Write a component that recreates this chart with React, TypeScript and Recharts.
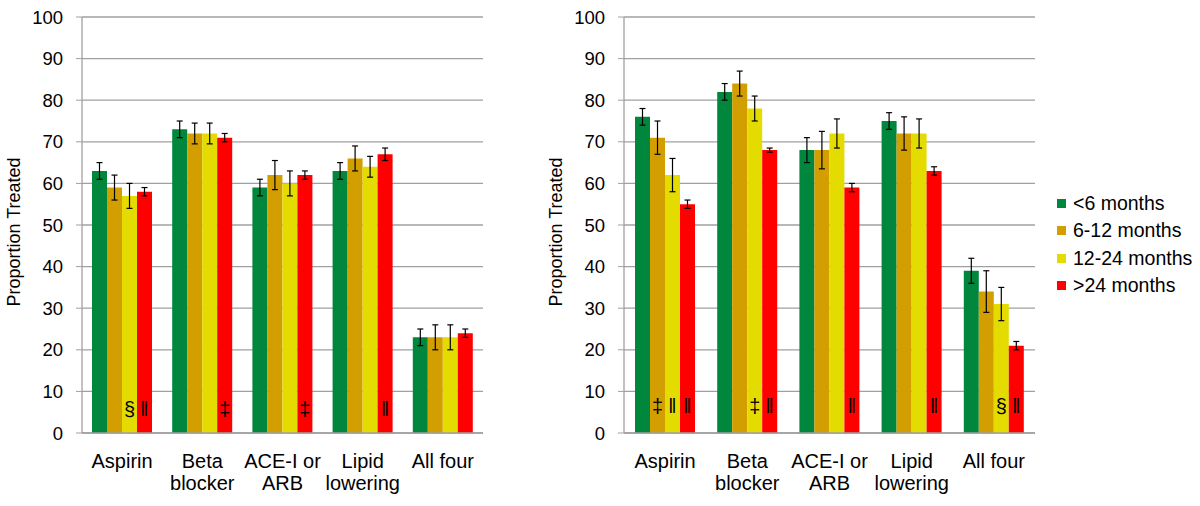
import React from "react";
import {
  BarChart,
  Bar,
  XAxis,
  YAxis,
  CartesianGrid,
  ErrorBar,
  LabelList,
} from "recharts";

const FONT = '"Liberation Sans", Arial, sans-serif';
const GRID = "#a0a0a0";

const categories = [
  "Aspirin",
  "Beta\nblocker",
  "ACE-I or\nARB",
  "Lipid\nlowering",
  "All four",
];
const seriesNames = ["<6 months", "6-12 months", "12-24 months", ">24 months"];
const seriesColors = ["#00873d", "#d39f00", "#e4dc00", "#fe0000"];
const yTicks = [0, 10, 20, 30, 40, 50, 60, 70, 80, 90, 100];

// left panel
const leftLt6 = [63, 73, 59, 63, 23];
const left6to12 = [59, 72, 62, 66, 23];
const left12to24 = [57, 72, 60, 64, 23];
const leftGt24 = [58, 71, 62, 67, 24];
const leftErrLt6 = [2, 2, 2, 2, 2];
const leftErr6to12 = [3, 2.5, 3.5, 3, 3];
const leftErr12to24 = [3, 2.5, 3, 2.5, 3];
const leftErrGt24 = [1, 1, 1, 1.5, 1];
const leftSymLt6 = ["", "", "", "", ""];
const leftSym6to12 = ["", "", "", "", ""];
const leftSym12to24 = ["§", "", "", "", ""];
const leftSymGt24 = ["‖", "‡", "‡", "‖", ""];

// right panel
const rightLt6 = [76, 82, 68, 75, 39];
const right6to12 = [71, 84, 68, 72, 34];
const right12to24 = [62, 78, 72, 72, 31];
const rightGt24 = [55, 68, 59, 63, 21];
const rightErrLt6 = [2, 2, 3, 2, 3];
const rightErr6to12 = [4, 3, 4.5, 4, 5];
const rightErr12to24 = [4, 3, 3.5, 3.5, 4];
const rightErrGt24 = [1, 0.5, 1, 1, 1];
const rightSymLt6 = ["", "", "", "", ""];
const rightSym6to12 = ["‡", "", "", "", ""];
const rightSym12to24 = ["‖", "‡", "", "", "§"];
const rightSymGt24 = ["‖", "‖", "‖", "‖", "‖"];

function buildRows(values: number[][], errors: number[][], symbols: string[][]) {
  return categories.map((name, i) => {
    const row: any = { name };
    values.forEach((vals, s) => {
      row["v" + s] = vals[i];
      row["e" + s] = errors[s][i];
      row["s" + s] = symbols[s][i];
    });
    return row;
  });
}

const leftData = buildRows(
  [leftLt6, left6to12, left12to24, leftGt24],
  [leftErrLt6, leftErr6to12, leftErr12to24, leftErrGt24],
  [leftSymLt6, leftSym6to12, leftSym12to24, leftSymGt24]
);
const rightData = buildRows(
  [rightLt6, right6to12, right12to24, rightGt24],
  [rightErrLt6, rightErr6to12, rightErr12to24, rightErrGt24],
  [rightSymLt6, rightSym6to12, rightSym12to24, rightSymGt24]
);

const CategoryTick = (props: any) => {
  const { x, y, payload } = props;
  const lines = String(payload.value).split("\n");
  return (
    <text x={x} y={y} textAnchor="middle" fill="#000" fontSize={20} fontFamily={FONT}>
      {lines.map((l, i) => (
        <tspan key={i} x={x} y={y + 35 + i * 22}>
          {l}
        </tspan>
      ))}
    </text>
  );
};

const AxisTitle = () => (
  <text
    x={14}
    y={232}
    transform="rotate(-90 14 232)"
    textAnchor="middle"
    dominantBaseline="central"
    fill="#000"
    fontSize={18}
    fontFamily={FONT}
  >
    Proportion Treated
  </text>
);

const Panel = ({ data, marginRight, gap, lift }: any) => (
  <BarChart
    width={500}
    height={506}
    data={data}
    margin={{ top: 17, right: marginRight, left: 0, bottom: 0 }}
    barCategoryGap={gap}
    barGap={0}
  >
    <CartesianGrid vertical={false} stroke={GRID} strokeWidth={1.3} />
    <XAxis
      dataKey="name"
      height={73}
      interval={0}
      axisLine={{ stroke: GRID, strokeWidth: 1.3 }}
      tickLine={false}
      tickSize={0}
      tickMargin={0}
      tick={<CategoryTick />}
    />
    <YAxis
      domain={[0, 100]}
      ticks={yTicks}
      interval={0}
      width={82}
      axisLine={{ stroke: GRID, strokeWidth: 1.3 }}
      tickLine={{ stroke: GRID }}
      tickSize={6}
      tickMargin={13}
      tick={{ fill: "#000", fontSize: 18.5, fontFamily: FONT }}
      label={{ content: () => <AxisTitle /> }}
    />
    {seriesNames.map((n, s) => (
      <Bar
        key={n}
        dataKey={"v" + s}
        name={n}
        fill={seriesColors[s]}
        isAnimationActive={false}
      >
        <ErrorBar dataKey={"e" + s} width={3} stroke="#000" strokeWidth={1.2} />
        <LabelList
          dataKey={"s" + s}
          content={(p: any) =>
            p.value ? (
              <text
                x={p.x + p.width / 2}
                y={p.y + p.height - lift}
                textAnchor="middle"
                dominantBaseline="central"
                fill="#000"
                fontSize={20}
                fontFamily={FONT}
              >
                {p.value}
              </text>
            ) : null
          }
        />
      </Bar>
    ))}
  </BarChart>
);

export default function App() {
  return (
    <div
      style={{
        position: "absolute",
        left: 0,
        top: 0,
        width: 1200,
        height: 506,
        background: "#fff",
      }}
    >
      <div style={{ position: "absolute", left: 0, top: 0 }}>
        <Panel data={leftData} marginRight={17} gap={10} lift={24} />
      </div>
      <div style={{ position: "absolute", left: 542, top: 0 }}>
        <Panel data={rightData} marginRight={7} gap={11} lift={27} />
      </div>
      <div
        style={{
          position: "absolute",
          left: 1057,
          top: 190,
          fontFamily: FONT,
          fontSize: 19.5,
          color: "#000",
        }}
      >
        {seriesNames.map((n, s) => (
          <div
            key={n}
            style={{ display: "flex", alignItems: "center", height: 27.3 }}
          >
            <span
              style={{
                display: "inline-block",
                width: 9,
                height: 9,
                background: seriesColors[s],
                marginRight: 7,
              }}
            />
            <span>{n}</span>
          </div>
        ))}
      </div>
    </div>
  );
}
